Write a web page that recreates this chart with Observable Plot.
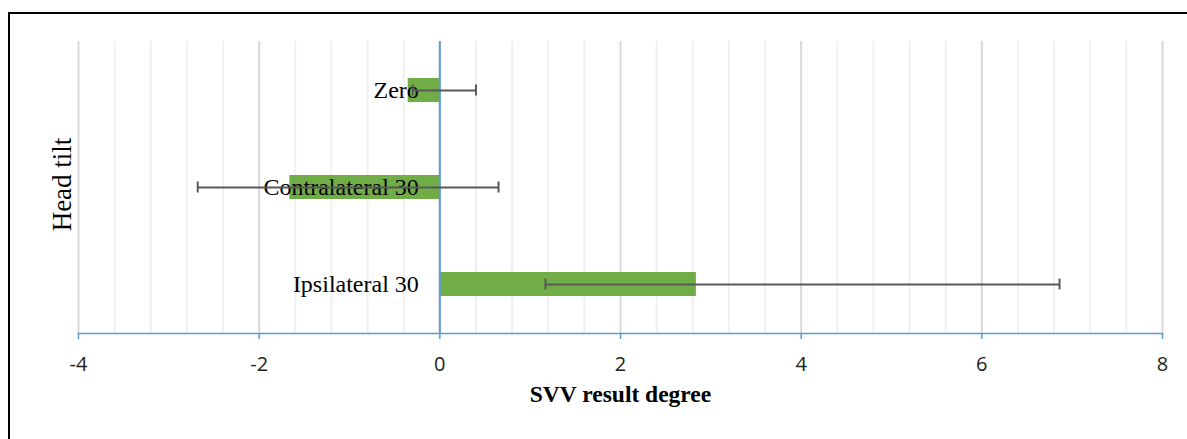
<!DOCTYPE html>
<html>
<head>
<meta charset="utf-8">
<script src="https://cdn.jsdelivr.net/npm/d3@7"></script>
<script src="https://cdn.jsdelivr.net/npm/@observablehq/plot@0.6"></script>
<style>
  html, body { margin: 0; padding: 0; background: #fff; }
  #wrap { position: relative; width: 1187px; height: 439px; overflow: hidden; }
  #border { position: absolute; left: 8px; top: 12px; width: 1200px; height: 460px; border: 2px solid #000; box-sizing: border-box; }
  #chart { position: absolute; left: 0; top: 0; }
</style>
</head>
<body>
<div id="wrap"><div id="border"></div><div id="chart"></div></div>
<script>
// Data
const categories = ["Zero", "Contralateral 30", "Ipsilateral 30"];
const means      = [-0.35, -1.66, 2.84];
const errLow     = [-0.30, -2.68, 1.17];
const errHigh    = [0.40, 0.65, 6.86];
const majorTicks = [-4, -2, 0, 2, 4, 6, 8];
const minorTicks = [-3.6, -3.2, -2.8, -2.4, -1.6, -1.2, -0.8, -0.4, 0.4, 0.8, 1.2, 1.6, 2.4, 2.8, 3.2, 3.6, 4.4, 4.8, 5.2, 5.6, 6.4, 6.8, 7.2, 7.6];
const xTitle = "SVV result degree";
const yTitle = "Head tilt";

const rows = categories.map((c, i) => ({cat: c, mean: means[i], lo: errLow[i], hi: errHigh[i]}));

const blue = "#5b9bd5";
const green = "#70ad47";
const grey = "#595959";
const serif = "'Liberation Serif', 'Times New Roman', serif";

const chart = Plot.plot({
  width: 1187,
  height: 439,
  marginLeft: 78,
  marginRight: 25,
  marginTop: 41,
  marginBottom: 106,
  style: {background: "transparent", overflow: "visible"},
  x: {domain: [-4, 8], label: null},
  y: {domain: categories, paddingInner: 0.753, paddingOuter: 0.3765, axis: null, label: null},
  marks: [
    Plot.gridX(minorTicks, {stroke: "#f0f0f0", strokeOpacity: 1, strokeWidth: 2}),
    Plot.gridX(majorTicks, {stroke: "#d9d9d9", strokeOpacity: 1, strokeWidth: 2}),
    Plot.barX(rows, {x1: 0, x2: "mean", y: "cat", fill: green}),
    Plot.ruleX([0], {stroke: blue, strokeWidth: 2}),
    Plot.text(rows, {x: 0, y: "cat", text: "cat", textAnchor: "end", dx: -21, fontFamily: serif, fontSize: 24, fill: "#000"}),
    Plot.ruleY(rows, {x1: "lo", x2: "hi", y: "cat", stroke: grey, strokeWidth: 2}),
    Plot.tickX(rows, {x: "lo", y: "cat", stroke: grey, strokeWidth: 2, insetTop: 6.5, insetBottom: 6.5}),
    Plot.tickX(rows, {x: "hi", y: "cat", stroke: grey, strokeWidth: 2, insetTop: 6.5, insetBottom: 6.5}),
    Plot.frame({anchor: "bottom", stroke: blue, strokeWidth: 1.5}),
    Plot.axisX(majorTicks, {tickSize: 6, tickPadding: 17, stroke: blue, strokeWidth: 1.5, fill: "#222", fontSize: 20, fontFamily: "'Open Sans', sans-serif", label: null, tickFormat: d => d}),
    Plot.text([xTitle], {frameAnchor: "bottom", dy: 68, fontFamily: serif, fontWeight: "bold", fontSize: 23.5, fill: "#000"}),
    Plot.text([yTitle], {frameAnchor: "left", textAnchor: "middle", dx: -16, dy: -3, rotate: -90, fontFamily: serif, fontSize: 27, fill: "#000"})
  ]
});
document.getElementById("chart").appendChild(chart);
</script>
</body>
</html>
